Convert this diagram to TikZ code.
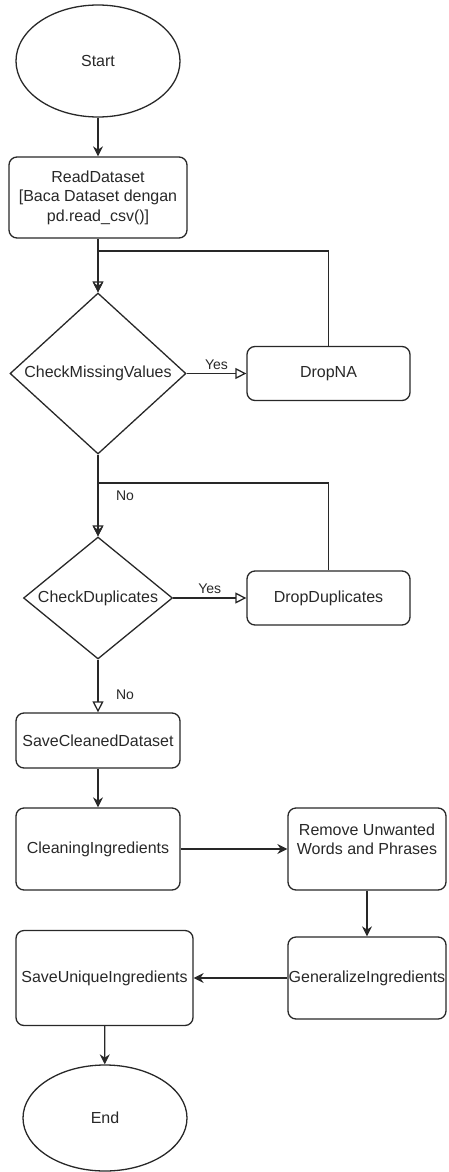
\documentclass[tikz,border=0pt]{standalone}
\usepackage{fontspec}
\setmainfont{Liberation Sans}
\usetikzlibrary{shapes.geometric,arrows.meta}
\definecolor{ink}{RGB}{40,40,40}

\begin{document}
\begin{tikzpicture}[x=1pt,y=-1pt,font=\fontsize{16}{19.5}\selectfont,
    terminal/.style ={ellipse, draw=ink, line width=1.3pt, text=ink, inner sep=0pt, minimum width=164pt, minimum height=112pt},
    process/.style ={rectangle, rounded corners=8pt, draw=ink, line width=1.3pt, text=ink, inner sep=0pt, align=center},
    decision/.style ={diamond, draw=ink, line width=1.3pt, text=ink, inner sep=0pt},
    flow/.style ={draw=ink, line width=1.3pt, -{Stealth[length=10pt,width=10pt]}},
    openflow/.style ={draw=ink, line width=1.3pt, -{Triangle[open,length=11pt,width=11pt,fill=white]}},
    edgelabel/.style ={font=\fontsize{14}{16}\selectfont, text=ink}]
   \useasboundingbox (0,0) rectangle (448,1172);
   \node[terminal] (start) at (98,61) {Start};
   \node[process, minimum width=178pt, minimum height=81pt] (read) at (98,197.5) {ReadDataset\\{[}Baca Dataset dengan\\pd.read\_csv()]};
   \node[decision, minimum width=176pt, minimum height=161pt] (missing) at (98,373.5) {\makebox[0pt]{CheckMissingValues}};
   \node[process, minimum width=163pt, minimum height=54pt] (dropna) at (328.5,373.5) {DropNA};
   \node[decision, minimum width=149pt, minimum height=122pt] (dupes) at (98,598) {\makebox[0pt]{CheckDuplicates}};
   \node[process, minimum width=163pt, minimum height=54pt] (dropdup) at (328.5,598) {DropDuplicates};
   \node[process, minimum width=164pt, minimum height=55pt] (saveclean) at (98,740.5) {SaveCleanedDataset};
   \node[process, minimum width=164pt, minimum height=82pt] (cleaning) at (98,849) {CleaningIngredients};
   \node[process, minimum width=158pt, minimum height=82pt] (remove) at (367,849) {Remove Unwanted\\Words and Phrases\\\mbox{}};
   \node[process, minimum width=158pt, minimum height=82pt] (general) at (367,978) {GeneralizeIngredients};
   \node[process, minimum width=177pt, minimum height=95pt] (saveuniq) at (104.5,978) {SaveUniqueIngredients};
   \node[terminal, minimum height=106pt] (end) at (105,1118) {End};
   \coordinate (loopA) at (98,251);
   \coordinate (loopB) at (98,483);
   \draw[flow] (start) -- (read);
   \draw[openflow] (dropna.north) |- (loopA) -- (missing.north);
   \draw[flow] (read) -- (missing);
   \draw[openflow] (missing) -- node[edgelabel, above] {Yes} (dropna);
   \draw[openflow] (missing.south) -- node[edgelabel, pos=0.5, xshift=27pt] {No} (dupes.north);
   \draw[flow] (dropdup.north) |- (loopB) -- (dupes.north);
   \draw[openflow] (dupes) -- node[edgelabel, above] {Yes} (dropdup);
   \draw[openflow] (dupes) -- node[edgelabel, pos=0.67, xshift=27pt] {No} (saveclean);
   \draw[flow] (saveclean) -- (cleaning);
   \draw[flow] (cleaning) -- (remove);
   \draw[flow] (remove) -- (general);
   \draw[flow] (general) -- (saveuniq);
   \draw[flow] (saveuniq) -- (end);
 \end{tikzpicture}
\end{document}
